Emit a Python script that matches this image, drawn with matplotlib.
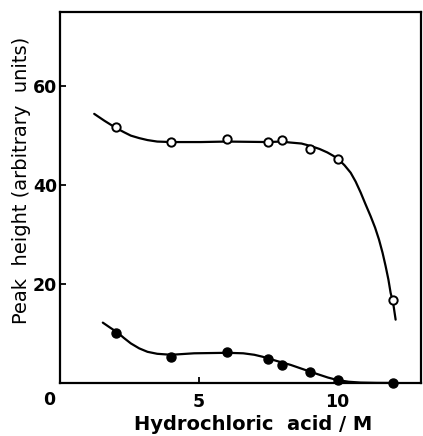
import numpy as np
import matplotlib
matplotlib.use("Agg")
import matplotlib.pyplot as plt

# measured points (open = upper series, filled = lower series)
hcl = [2, 4, 6, 7.5, 8, 9, 10, 12]
peak_open = [51.7, 48.7, 49.3, 48.7, 49.1, 47.3, 45.2, 16.8]
peak_filled = [10.2, 5.3, 6.2, 4.9, 3.7, 2.3, 0.6, 0.0]

# hand-drawn curves
curve_open_x = [1.23, 1.6, 2.0, 2.3, 2.55, 2.85, 3.15, 3.5, 4.0, 5.07, 6.0, 7.5,
                7.95, 8.3, 8.7, 9.03, 9.35, 9.63, 9.85, 10.05, 10.25, 10.47,
                10.65, 10.83, 11.0, 11.19, 11.35, 11.49, 11.62, 11.73, 11.83,
                11.91, 12.0, 12.09]
curve_open_y = [54.4, 53.0, 51.6, 50.7, 50.0, 49.5, 49.1, 48.8, 48.7, 48.7, 48.8,
                48.7, 48.8, 48.6, 48.4, 47.9, 47.3, 46.6, 45.9, 45.1, 44.0, 42.5,
                40.7, 38.5, 36.2, 33.7, 31.4, 29.0, 26.3, 23.6, 20.9,
                18.2, 16.2, 12.8]
curve_filled_x = [1.54, 1.8, 2.07, 2.3, 2.55, 2.85, 3.15, 3.5, 4.0, 4.83, 6.03,
                  6.6, 7.0, 7.3, 7.53, 7.9, 8.31, 8.8, 9.27, 9.65, 9.99, 10.4,
                  10.83, 11.4, 12.0]
curve_filled_y = [12.2, 11.2, 10.2, 9.1, 8.0, 7.0, 6.3, 5.9, 5.7, 6.0, 6.1,
                  6.0, 5.7, 5.3, 4.9, 4.3, 3.65, 2.7, 1.8, 1.1, 0.6, 0.25,
                  0.08, 0.02, 0.0]

plt.rcParams['font.family'] = ['DejaVu Sans']

fig = plt.figure(figsize=(4.23, 4.36), dpi=100)
ax = fig.add_axes([0.142, 0.1216, 0.853, 0.851])

ax.plot(curve_open_x, curve_open_y, color='black', lw=1.6, solid_capstyle='round',
        solid_joinstyle='round')
ax.plot(curve_filled_x, curve_filled_y, color='black', lw=1.6, solid_capstyle='round',
        solid_joinstyle='round')
ax.plot(hcl, peak_open, 'o', ms=6, mfc='white', mec='black', mew=1.4, clip_on=False)
ax.plot(hcl, peak_filled, 'o', ms=6.5, color='black', clip_on=False)

ax.set_xlim(0, 13)
ax.set_ylim(0, 75)
ax.set_xticks([5, 10])
ax.set_yticks([20, 40, 60])
ax.tick_params(direction='in', length=4, width=1.3, labelsize=12.5, pad=2)
ax.tick_params(axis='x', pad=7)
for lab in ax.get_xticklabels() + ax.get_yticklabels():
    lab.set_fontweight('bold')
for s in ax.spines.values():
    s.set_linewidth(1.6)

# shared origin label
ax.annotate('0', xy=(0, 0), xytext=(-8, -12), textcoords='offset points',
            ha='center', va='center', fontsize=12.5, fontweight='bold')

ax.set_xlabel('Hydrochloric  acid / M', fontsize=14, fontweight='bold')
ax.set_ylabel('Peak  height (arbitrary  units)', fontsize=14, fontweight='medium')
ax.xaxis.set_label_coords(0.535, -0.085)
ax.yaxis.set_label_coords(-0.08, 0.545)

fig.savefig('out.png', dpi=100)
